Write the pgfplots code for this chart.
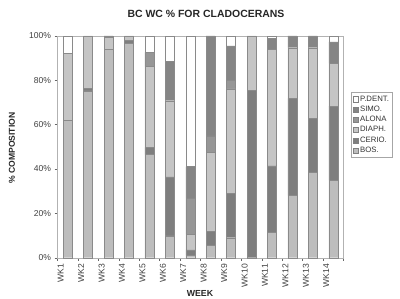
\documentclass[border=0pt]{standalone}
\usepackage{pgfplots}
\pgfplotsset{compat=1.18}
\usepackage{fontspec}
\setmainfont{Liberation Sans}
\definecolor{cbos}{HTML}{BDBDBD}
\definecolor{ccerio}{HTML}{7E7E7E}
\definecolor{cdiaph}{HTML}{C5C5C5}
\definecolor{calona}{HTML}{969696}
\definecolor{csimo}{HTML}{858585}
\definecolor{cedge}{HTML}{8A8A8A}
\begin{document}
\begin{tikzpicture}
\useasboundingbox (0,0) rectangle (400bp,299bp);
\begin{axis}[
  at={(57.5bp,41.3bp)}, anchor=south west,
  scale only axis, width=286bp, height=221.7bp,
  ybar stacked, bar width=9bp,
  xmin=0.5, xmax=14.5, ymin=0, ymax=100,
  xtick={1,...,14},
  xticklabels={WK1,WK2,WK3,WK4,WK5,WK6,WK7,WK8,WK9,WK10,WK11,WK12,WK13,WK14},
  major x tick style={draw=none},
  minor xtick={0.5,1.5,...,14.5},
  minor tick length=3bp,
  ytick={0,20,40,60,80,100},
  yticklabel={\pgfmathprintnumber{\tick}\%},
  /pgf/number format/assume math mode=true,
  tick align=outside, tick pos=left, major tick length=3bp,
  tick style={draw=gray!80!black, line width=0.4bp},
  axis line style={draw=gray!60, line width=0.4bp},
  ticklabel style={font=\fontsize{8.6}{10}\selectfont, text=black!75},
  xticklabel style={xshift=-7bp, rotate=90, anchor=east},
  every axis plot/.append style={draw=cedge, line width=0.3bp},
  legend style={at={(1.026,0.747)}, anchor=north west, draw=gray!70,
    font=\fontsize{7.8}{9}\selectfont, cells={anchor=west},
    row sep=-0.6bp, inner sep=1.5bp, text=black!80},
  legend image code/.code={\draw[#1, draw=gray] (0bp,-2.6bp) rectangle (5.2bp,2.6bp);},
  reverse legend,
  clip=false,
]
\addplot[fill=cbos] coordinates {(1,62.1) (2,75.3) (3,94.0) (4,96.7) (5,46.5) (6,9.8) (7,1.2) (8,5.7) (9,9.0) (10,0) (11,11.3) (12,28.0) (13,38.6) (14,35.0)};
\addlegendentry{BOS.}
\addplot[fill=ccerio] coordinates {(1,0) (2,1.1) (3,0) (4,1.3) (5,3.3) (6,26.7) (7,2.3) (8,6.3) (9,20.0) (10,75.6) (11,30.2) (12,43.9) (13,24.4) (14,33.4)};
\addlegendentry{CERIO.}
\addplot[fill=cdiaph] coordinates {(1,30.1) (2,23.6) (3,5.4) (4,2.0) (5,36.4) (6,34.3) (7,7.0) (8,35.5) (9,47.2) (10,24.4) (11,52.6) (12,22.8) (13,31.7) (14,19.3)};
\addlegendentry{DIAPH.}
\addplot[fill=calona] coordinates {(1,0) (2,0) (3,0) (4,0) (5,6.4) (6,0) (7,16.3) (8,7.5) (9,3.8) (10,0) (11,0) (12,0) (13,0) (14,0)};
\addlegendentry{ALONA}
\addplot[fill=csimo] coordinates {(1,0) (2,0) (3,0.6) (4,0) (5,0) (6,17.9) (7,14.3) (8,45.0) (9,15.5) (10,0) (11,4.8) (12,5.3) (13,5.3) (14,9.7)};
\addlegendentry{SIMO.}
\addplot[fill=white] coordinates {(1,7.8) (2,0) (3,0) (4,0) (5,7.4) (6,11.3) (7,58.9) (8,0) (9,4.5) (10,0) (11,1.1) (12,0) (13,0) (14,2.6)};
\addlegendentry{P.DENT.}
\end{axis}
\node[font=\fontsize{10.5}{12}\selectfont\bfseries, text=black!85] at (206bp,285bp) {BC WC \% FOR CLADOCERANS};
\node[font=\fontsize{8.6}{10}\selectfont\bfseries, text=black!85, rotate=90] at (12bp,151bp) {\% COMPOSITION};
\node[font=\fontsize{8.8}{10}\selectfont\bfseries, text=black!85] at (200bp,6bp) {WEEK};
\end{tikzpicture}
\end{document}
